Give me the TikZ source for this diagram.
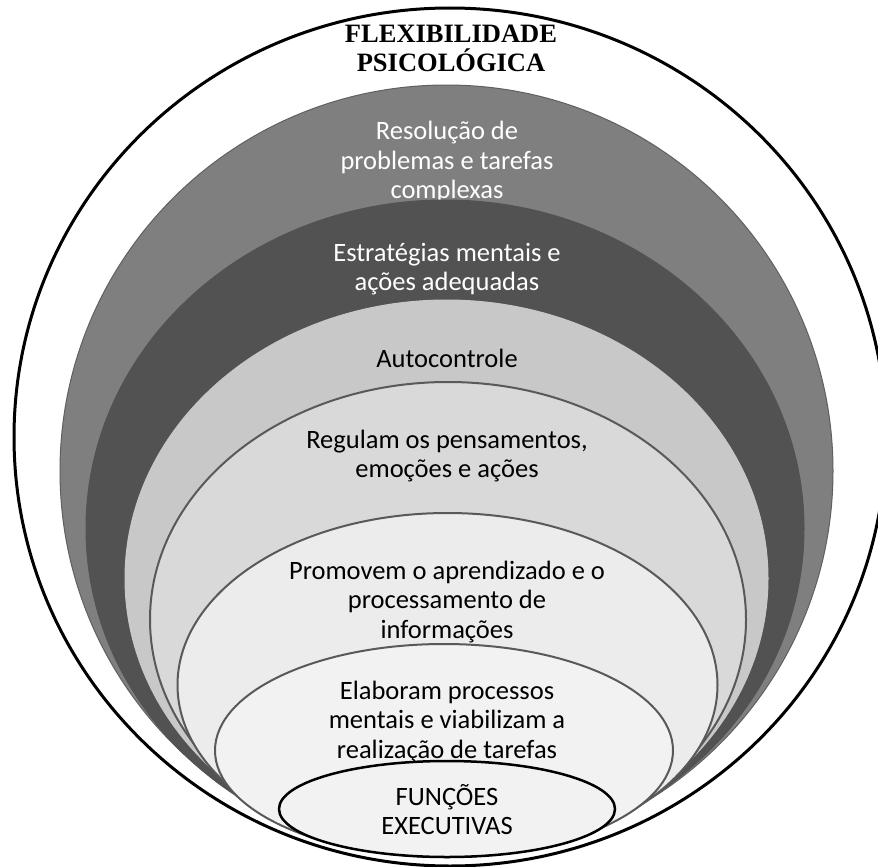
\documentclass[tikz,border=0pt]{standalone}
\usepackage{fontspec}
\setmainfont{Carlito}
\newfontfamily\titlefont{Liberation Serif}
\definecolor{layA}{HTML}{7F7F7F}
\definecolor{layB}{HTML}{525252}
\definecolor{layC}{HTML}{C8C8C8}
\definecolor{layD}{HTML}{D9D9D9}
\definecolor{layE}{HTML}{ECECEC}
\definecolor{layF}{HTML}{F2F2F2}
\definecolor{edgeA}{HTML}{606060}
\definecolor{edgeD}{HTML}{595959}
\begin{document}
\begin{tikzpicture}[x=1pt,y=-1pt,
  lbl/.style={inner sep=0pt, align=center, font=\fontsize{26.5}{29.5}\selectfont},
  lblw/.style={lbl, text=white},
  ttl/.style={inner sep=0pt, align=center, font=\titlefont\bfseries\fontsize{26.5}{29}\selectfont},
  thinring/.style={line width=1pt},
  midring/.style={draw=edgeD, line width=2pt}]
\fill[white] (0,0) rectangle (878,867);
\useasboundingbox (0,0) rectangle (878,867);
% outer circle
\draw[line width=3pt] (450,437) ellipse [x radius=436pt, y radius=429pt];
\node[ttl] (title) at (451,48) {FLEXIBILIDADE\\PSICOLÓGICA};
% layer 1
\draw[thinring, fill=layA, draw=edgeA] (446.5,471) ellipse [x radius=386.5pt, y radius=386pt];
\node[lblw] (t1) at (447,162) {Resolução de\\problemas e tarefas\\complexas};
% layer 2
\draw[thinring, fill=layB, draw=layB] (445,528.5) ellipse [x radius=359pt, y radius=328.5pt];
\node[lblw] (t2) at (447,269) {Estratégias mentais e\\ações adequadas};
% layer 3
\draw[thinring, fill=layC, draw=layC] (446.5,578.5) ellipse [x radius=321.5pt, y radius=278.5pt];
\node[lbl] (t3) at (447,358) {Autocontrole};
% layer 4
\draw[midring, fill=layD] (448,619.5) ellipse [x radius=298pt, y radius=237.5pt];
\node[lbl] (t4) at (447,456) {Regulam os pensamentos,\\emoções e ações};
% layer 5
\draw[midring, fill=layE] (447.5,685) ellipse [x radius=270pt, y radius=172pt];
\node[lbl] (t5) at (447,602) {Promovem o aprendizado e o\\processamento de\\informações};
% layer 6
\draw[midring, fill=layF] (444,750.5) ellipse [x radius=229pt, y radius=106.5pt];
\node[lbl] (t6) at (447,722) {Elaboram processos\\mentais e viabilizam a\\realização de tarefas};
% core
\draw[line width=2.5pt, fill=layF] (447,809) ellipse [x radius=168pt, y radius=48pt];
\node[lbl] (t7) at (447,809.5) {FUNÇÕES\\EXECUTIVAS};
\end{tikzpicture}
\end{document}
